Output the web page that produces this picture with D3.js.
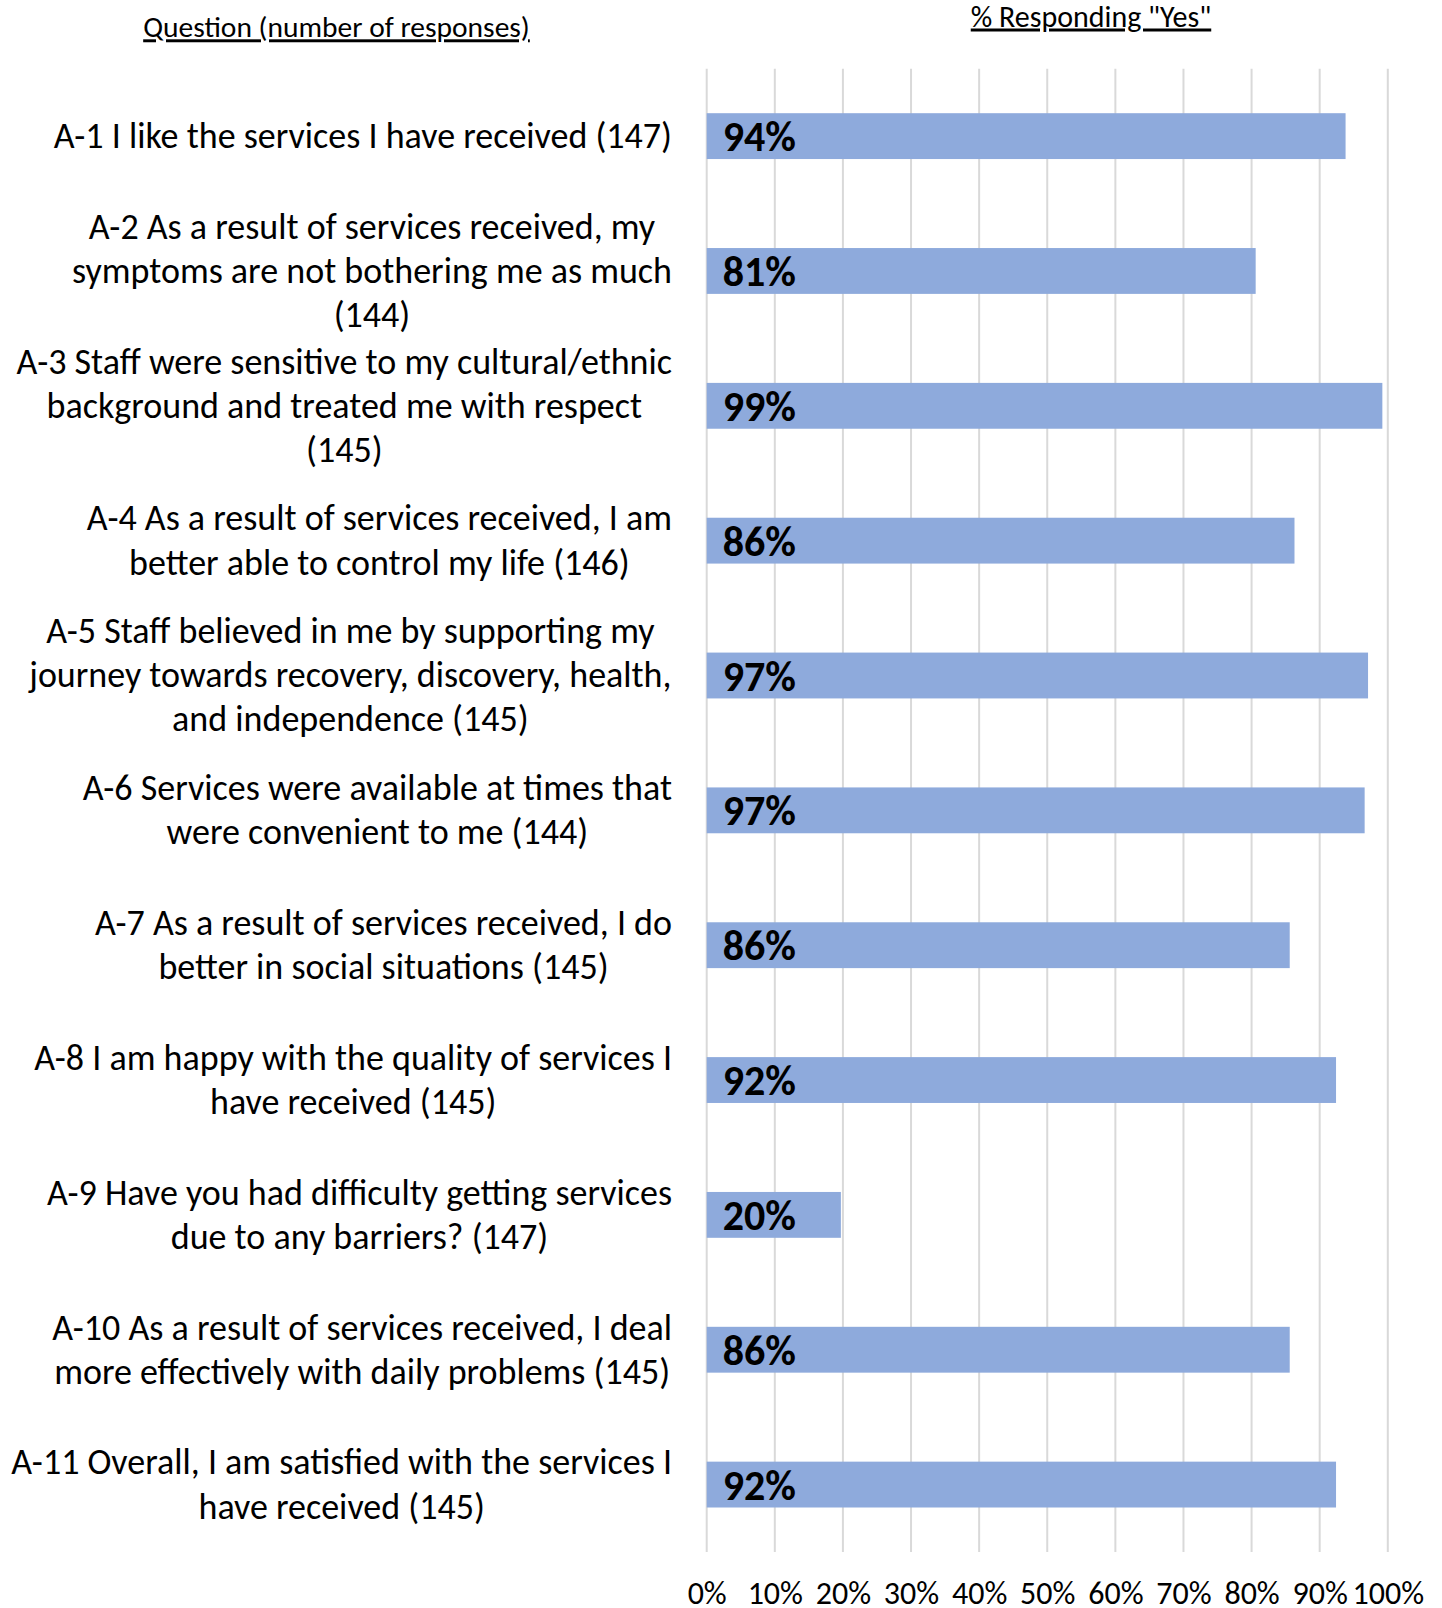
<!DOCTYPE html>
<html>
<head>
<meta charset="utf-8">
<script src="https://cdn.jsdelivr.net/npm/d3@7"></script>
<style>
  html, body { margin: 0; padding: 0; background: #fff; }
  svg { display: block; }
  text { font-family: Carlito, Calibri, Lato, sans-serif; fill: #000; }
</style>
</head>
<body>
<svg id="chart" width="1442" height="1608"></svg>
<script>
// Survey questions (line breaks as laid out on the chart)
const questions = [
  "A-1 I like the services I have received (147)",
  "A-2 As a result of services received, my\nsymptoms are not bothering me as much\n(144)",
  "A-3 Staff were sensitive to my cultural/ethnic\nbackground and treated me with respect\n(145)",
  "A-4 As a result of services received, I am\nbetter able to control my life (146)",
  "A-5 Staff believed in me by supporting my\njourney towards recovery, discovery, health,\nand independence (145)",
  "A-6 Services were available at times that\nwere convenient to me (144)",
  "A-7 As a result of services received, I do\nbetter in social situations (145)",
  "A-8 I am happy with the quality of services I\nhave received (145)",
  "A-9 Have you had difficulty getting services\ndue to any barriers? (147)",
  "A-10 As a result of services received, I deal\nmore effectively with daily problems (145)",
  "A-11 Overall, I am satisfied with the services I\nhave received (145)"
];

// Share of respondents answering "Yes"
const yesShare = [0.938, 0.806, 0.992, 0.863, 0.971, 0.966, 0.856, 0.924, 0.197, 0.856, 0.924];

// Axis ticks
const tickValues = [0, 0.1, 0.2, 0.3, 0.4, 0.5, 0.6, 0.7, 0.8, 0.9, 1.0];

const titleLeft = "Question (number of responses)";
const titleRight = "% Responding \"Yes\"";

const svg = d3.select("#chart");

const plot = { left: 706.7, right: 1387.8, top: 68.7, bottom: 1552 };
const labelRight = 672;
const lineHeight = 44.1;

const x = d3.scaleLinear().domain([0, 1]).range([plot.left, plot.right]);
const y = d3.scaleBand()
  .domain(questions.map((d, i) => i))
  .range([plot.top, plot.bottom])
  .paddingInner(0.66)
  .paddingOuter(0.33);

const pct = d3.format(".0%");

// Vertical gridlines
svg.append("g")
  .selectAll("line")
  .data(tickValues)
  .join("line")
  .attr("x1", d => x(d)).attr("x2", d => x(d))
  .attr("y1", plot.top).attr("y2", plot.bottom)
  .attr("stroke", "#d9d9d9")
  .attr("stroke-width", 2);

// Bottom axis labels
const axis = d3.axisBottom(x).tickValues(tickValues).tickFormat(pct).tickSize(0).tickPadding(0);
const axisG = svg.append("g")
  .attr("transform", `translate(0, 1581)`)
  .call(axis);
axisG.select(".domain").remove();
axisG.selectAll("text")
  .attr("font-size", 32)
  .attr("fill", "#000")
  .attr("font-family", "Carlito, Calibri, Lato, sans-serif");

// Bars
svg.append("g")
  .selectAll("rect")
  .data(yesShare)
  .join("rect")
  .attr("x", x(0))
  .attr("y", (d, i) => y(i))
  .attr("width", d => x(d) - x(0))
  .attr("height", y.bandwidth())
  .attr("fill", "#8eaadc");

// Value labels inside bars
svg.append("g")
  .selectAll("text")
  .data(yesShare)
  .join("text")
  .attr("x", x(0) + 16)
  .attr("y", (d, i) => y(i) + y.bandwidth() / 2)
  .attr("dy", "0.36em")
  .attr("font-size", 42)
  .attr("font-weight", "bold")
  .attr("fill", "#0d0d0d")
  .text(d => pct(d));

// Question labels: each block is centred on itself, right-aligned to the plot
const labelG = svg.append("g");
questions.forEach((q, i) => {
  const lines = q.split("\n");
  const cy = y(i) + y.bandwidth() / 2;
  const t = labelG.append("text")
    .attr("font-size", 36)
    .attr("text-anchor", "middle");
  lines.forEach((ln, j) => {
    t.append("tspan")
      .attr("x", 0)
      .attr("y", cy + (j - (lines.length - 1) / 2) * lineHeight)
      .attr("dy", "0.33em")
      .text(ln);
  });
  const w = t.node().getBBox().width;
  t.attr("transform", `translate(${labelRight - w / 2},0)`);
});

// Column headings
svg.append("text")
  .attr("x", 336.5).attr("y", 27).attr("dy", "0.35em")
  .attr("text-anchor", "middle")
  .attr("font-size", 29.5)
  .attr("text-decoration", "underline")
  .text(titleLeft);

svg.append("text")
  .attr("x", 1091).attr("y", 16).attr("dy", "0.35em")
  .attr("text-anchor", "middle")
  .attr("font-size", 30)
  .attr("text-decoration", "underline")
  .text(titleRight);
</script>
</body>
</html>
